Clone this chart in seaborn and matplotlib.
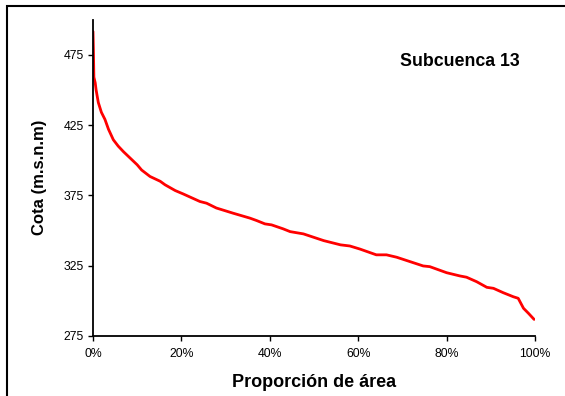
import numpy as np
import pandas as pd
import matplotlib
matplotlib.use("Agg")
import matplotlib.pyplot as plt
from matplotlib.ticker import PercentFormatter, FixedLocator
from matplotlib.patches import Rectangle
import seaborn as sns

# Hypsometric curve of sub-basin 13: cumulative area fraction vs. elevation
area_fraction = [0.000, 0.001, 0.002, 0.005, 0.007, 0.012, 0.019, 0.027, 0.035,
                 0.046, 0.057, 0.069, 0.084, 0.100, 0.110, 0.129, 0.152, 0.163,
                 0.186, 0.204, 0.242, 0.257, 0.279, 0.317, 0.355, 0.370, 0.389,
                 0.404, 0.430, 0.446, 0.476, 0.522, 0.560, 0.581, 0.604, 0.641,
                 0.664, 0.687, 0.717, 0.747, 0.762, 0.800, 0.830, 0.845, 0.868,
                 0.891, 0.906, 0.928, 0.951, 0.962, 0.974, 0.985, 0.998]
elevation = [491.5, 477.0, 459.0, 455.0, 450.0, 441.0, 434.0, 429.0, 422.0,
             414.5, 410.0, 406.0, 401.5, 396.7, 393.0, 388.4, 385.0, 382.5,
             378.4, 376.0, 370.6, 369.4, 366.0, 362.3, 358.8, 357.1, 354.7,
             354.0, 351.2, 349.2, 347.6, 342.8, 339.8, 339.0, 336.8, 332.7,
             332.7, 331.0, 327.9, 324.8, 324.3, 320.0, 317.7, 316.8, 313.6,
             309.6, 308.9, 305.8, 302.9, 301.8, 294.7, 291.2, 286.8]

y_ticks = [275, 325, 375, 425, 475]
x_ticks = [0.0, 0.2, 0.4, 0.6, 0.8, 1.0]

sns.set_style("ticks")
plt.rcParams["font.family"] = ["Liberation Sans", "DejaVu Sans"]
plt.rcParams["text.color"] = "black"
plt.rcParams["axes.labelcolor"] = "black"

fig = plt.figure(figsize=(5.65, 3.96), dpi=100)
ax = fig.add_axes([93 / 565, 1 - 336 / 396, (535 - 93) / 565, (336 - 19.5) / 396])

df = pd.DataFrame({"Proporción de área": area_fraction, "Cota": elevation})
sns.lineplot(data=df, x="Proporción de área", y="Cota", ax=ax,
             color="#ff0000", linewidth=2.0, estimator=None, sort=False)

ax.set_xlim(0, 1)
ax.set_ylim(275, 500)
ax.xaxis.set_major_locator(FixedLocator(x_ticks))
ax.yaxis.set_major_locator(FixedLocator(y_ticks))
ax.xaxis.set_major_formatter(PercentFormatter(xmax=1, decimals=0))

for side in ("top", "right"):
    ax.spines[side].set_visible(False)
for side in ("left", "bottom"):
    ax.spines[side].set_linewidth(1.3)
    ax.spines[side].set_color("black")

ax.tick_params(axis="both", direction="out", length=3.5, width=1.0,
               labelsize=8.8, colors="black", pad=3)
ax.tick_params(axis="x", pad=5)

ax.set_xlabel("Proporción de área", fontsize=13, fontweight="bold",
              labelpad=10, color="black")
ax.set_ylabel("Cota (m.s.n.m)", fontsize=12, fontweight="bold",
              labelpad=12, color="black")

ax.text(0.829, 0.866, "Subcuenca 13", transform=ax.transAxes, ha="center",
        va="center", fontsize=12.8, fontweight="bold", color="black")

# frame around the chart area
fig.patches.append(Rectangle((7 / 565, -0.2), 1.3, 0.2 + 1 - 6 / 396,
                             transform=fig.transFigure, fill=False,
                             edgecolor="black", linewidth=1.5))

fig.savefig("out.png", dpi=100, facecolor="white")
